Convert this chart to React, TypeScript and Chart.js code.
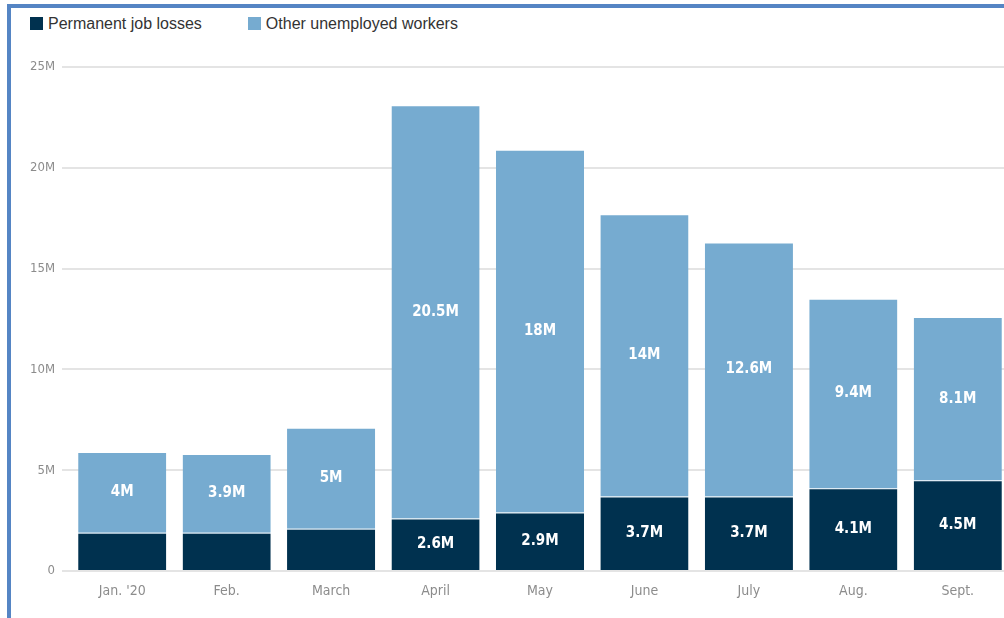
import React, { useEffect, useRef } from "react";
import { Chart, registerables } from "chart.js";

Chart.register(...registerables);

const categories = ["Jan. '20", "Feb.", "March", "April", "May", "June", "July", "Aug.", "Sept."];
const permanentLosses = [1.9, 1.9, 2.1, 2.6, 2.9, 3.7, 3.7, 4.1, 4.5];
const otherUnemployed = [4, 3.9, 5, 20.5, 18, 14, 12.6, 9.4, 8.1];
const seriesNames = ["Permanent job losses", "Other unemployed workers"];
const seriesColors = ["#00314f", "#76abd0"];
const yTicks = [0, 5, 10, 15, 20, 25];

const condensed = "'DejaVu Sans Condensed', 'Liberation Sans Narrow', 'Roboto', sans-serif";

const valueLabels = {
  id: "valueLabels",
  afterDatasetsDraw(chart: any) {
    const ctx = chart.ctx;
    ctx.save();
    ctx.fillStyle = "#ffffff";
    ctx.font = `bold 15px ${condensed}`;
    ctx.textAlign = "center";
    ctx.textBaseline = "middle";
    chart.data.datasets.forEach((ds: any, di: number) => {
      const meta = chart.getDatasetMeta(di);
      meta.data.forEach((el: any, i: number) => {
        const p = el.getProps(["x", "y", "base"], true);
        const h = Math.abs(p.base - p.y);
        if (h < 46) return;
        ctx.fillText(`${ds.data[i]}M`, p.x, (p.y + p.base) / 2);
      });
    });
    ctx.restore();
  },
};

export default function App() {
  const ref = useRef<HTMLCanvasElement>(null);
  useEffect(() => {
    if (!ref.current) return;
    const chart = new Chart(ref.current, {
      type: "bar",
      data: {
        labels: categories,
        datasets: [
          {
            label: seriesNames[0],
            data: permanentLosses,
            backgroundColor: seriesColors[0],
            borderColor: "rgba(118,171,208,0.35)",
            borderWidth: { top: 1 },
            categoryPercentage: 1,
            barPercentage: 0.844,
          },
          {
            label: seriesNames[1],
            data: otherUnemployed,
            backgroundColor: seriesColors[1],
            borderColor: "rgba(255,255,255,0.3)",
            borderWidth: { top: 1 },
            categoryPercentage: 1,
            barPercentage: 0.844,
          },
        ],
      },
      options: {
        responsive: false,
        animation: false,
        layout: { padding: { top: 67, left: 0, right: 0, bottom: 0 } },
        plugins: {
          legend: { display: false },
          tooltip: { enabled: false },
        },
        scales: {
          x: {
            stacked: true,
            grid: { display: false, drawTicks: false },
            border: { display: false },
            ticks: {
              padding: 12,
              color: "#8c8c8c",
              font: { family: condensed, size: 14, weight: "500" },
            },
            afterFit(scale: any) {
              scale.height = 47;
            },
          },
          y: {
            stacked: true,
            min: 0,
            max: 25,
            afterBuildTicks(scale: any) {
              scale.ticks = yTicks.map((v) => ({ value: v }));
            },
            grid: { color: "#e4e4e4", lineWidth: 2, tickLength: 8, drawTicks: true },
            border: { display: false },
            ticks: {
              padding: 7,
              color: "#8c8c8c",
              font: { family: condensed, size: 13, weight: "500" },
              callback: (v: any) => (v === 0 ? "0" : `${v}M`),
            },
            afterFit(scale: any) {
              scale.width = 70;
            },
          },
        },
      },
      plugins: [valueLabels],
    });
    return () => chart.destroy();
  }, []);

  return (
    <div
      style={{
        position: "fixed",
        left: 0,
        top: 0,
        width: 1004,
        height: 618,
        overflow: "hidden",
        background: "#ffffff",
      }}
    >
      <div
        style={{
          position: "absolute",
          left: 7,
          top: 4,
          width: 1100,
          height: 700,
          borderLeft: "4px solid #5585c4",
          borderTop: "4px solid #5585c4",
          boxSizing: "border-box",
        }}
      />
      <div
        style={{
          position: "absolute",
          left: 30,
          top: 13,
          display: "flex",
          gap: 46,
          fontFamily: "'Liberation Sans', Arial, sans-serif",
          fontSize: 16,
          color: "#333333",
          lineHeight: "21px",
        }}
      >
        {seriesNames.map((n, i) => (
          <div key={n} style={{ display: "flex", alignItems: "center" }}>
            <span
              style={{
                display: "inline-block",
                width: 13,
                height: 13,
                background: seriesColors[i],
                marginRight: 5,
              }}
            />
            <span>{n}</span>
          </div>
        ))}
      </div>
      <canvas
        ref={ref}
        width={1010}
        height={618}
        style={{ position: "absolute", left: 0, top: 0, width: 1010, height: 618 }}
      />
    </div>
  );
}
